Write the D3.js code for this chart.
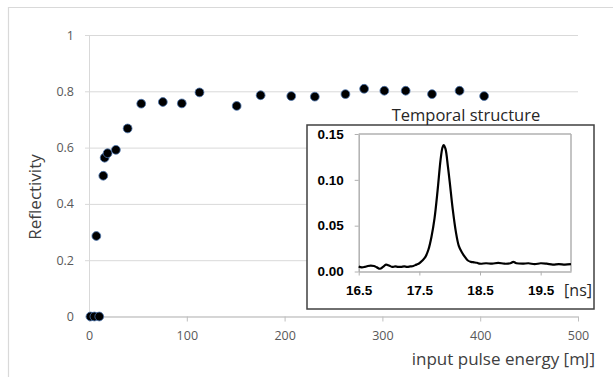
<!DOCTYPE html>
<html>
<head>
<meta charset="utf-8">
<script src="https://cdn.jsdelivr.net/npm/d3@7"></script>
<style>
  html, body { margin: 0; padding: 0; background: #fff; }
  svg { display: block; }
</style>
</head>
<body>
<svg id="chart" width="613" height="377"></svg>
<script>
// ---- Main chart data ----
const energy = [1.5, 5.5, 10.5, 7.5, 14.6, 16, 19, 27.5, 39.5, 53.4, 75.5, 94.9, 113, 151, 175.5, 206.8, 230.9, 262.2, 281.3, 302, 323.8, 350.7, 378.9, 404];
const reflectivity = [0, 0, 0, 0.286, 0.50, 0.564, 0.58, 0.592, 0.668, 0.756, 0.762, 0.757, 0.796, 0.748, 0.786, 0.783, 0.781, 0.790, 0.809, 0.802, 0.802, 0.790, 0.802, 0.783];
const xTicks = [0, 100, 200, 300, 400, 500];
const yTicks = [0, 0.2, 0.4, 0.6, 0.8, 1];

// ---- Inset data (temporal structure) ----
const time = [16.5,16.55,16.6,16.65,16.7,16.75,16.8,16.85,16.9,16.95,17.0,17.05,17.1,17.15,17.2,17.25,17.3,17.35,17.4,17.45,17.5,17.55,17.6,17.65,17.7,17.75,17.8,17.85,17.88,17.9,17.93,17.97,18.0,18.05,18.1,18.15,18.2,18.25,18.3,18.35,18.4,18.45,18.5,18.6,18.7,18.8,18.9,19.0,19.05,19.1,19.2,19.3,19.4,19.5,19.6,19.7,19.8,19.9,20.0];
const signal = [0.0055,0.0045,0.005,0.006,0.0065,0.006,0.0045,0.003,0.005,0.0075,0.0065,0.005,0.0055,0.005,0.005,0.0055,0.005,0.0055,0.006,0.0075,0.009,0.012,0.016,0.024,0.038,0.058,0.088,0.122,0.135,0.138,0.134,0.115,0.098,0.068,0.044,0.028,0.021,0.016,0.012,0.0105,0.010,0.0095,0.0085,0.009,0.0085,0.0095,0.0085,0.009,0.0105,0.009,0.0085,0.009,0.008,0.009,0.0085,0.0075,0.008,0.0075,0.008];
const insetXTicks = [16.5, 17.5, 18.5, 19.5];
const insetYTicks = [0, 0.05, 0.10, 0.15];

const svg = d3.select("#chart");
const FONT = "'Open Sans', 'Liberation Sans', sans-serif";
const BOLD = "'Liberation Sans', Arial, sans-serif";
const txt = "#595959";
const grid = "#d9d9d9";
const axisCol = "#bfbfbf";

// outer frame
svg.append("line").attr("x1", 8).attr("y1", 7.5).attr("x2", 613).attr("y2", 7.5).attr("stroke", grid).attr("stroke-width", 1.2);
svg.append("line").attr("x1", 8.5).attr("y1", 7).attr("x2", 8.5).attr("y2", 377).attr("stroke", grid).attr("stroke-width", 1.2);

const x = d3.scaleLinear().domain([0, 500]).range([89, 578]);
const y = d3.scaleLinear().domain([0, 1]).range([316.5, 35]);

// gridlines (y)
const gY = svg.append("g").attr("transform", "translate(89,0)")
  .call(d3.axisLeft(y).tickValues(yTicks).tickSize(-(578 - 89)).tickSizeOuter(0).tickFormat(d3.format("")));
gY.select(".domain").remove();
gY.selectAll(".tick line").attr("stroke", grid).attr("x1", -4).attr("stroke-width", 1);
gY.selectAll(".tick text").attr("x", -15).attr("fill", txt).attr("font-family", FONT).attr("font-size", 12.5);

// vertical axis line
svg.append("line").attr("x1", 89.5).attr("x2", 89.5).attr("y1", y(1)).attr("y2", y(0)).attr("stroke", grid);

// x axis
const gX = svg.append("g").attr("transform", "translate(0," + y(0) + ")")
  .call(d3.axisBottom(x).tickValues(xTicks).tickSize(5).tickSizeOuter(0).tickFormat(d3.format("")));
gX.select(".domain").attr("stroke", axisCol);
gX.selectAll(".tick line").attr("stroke", axisCol);
gX.selectAll(".tick text").attr("y", 15).attr("fill", txt).attr("font-family", FONT).attr("font-size", 12.5);

// axis titles
svg.append("text").attr("transform", "translate(41,197) rotate(-90)").attr("text-anchor", "middle")
  .attr("font-family", FONT).attr("font-size", 17).attr("fill", "#404040").text("Reflectivity");
svg.append("text").attr("x", 595).attr("y", 365).attr("text-anchor", "end")
  .attr("font-family", FONT).attr("font-size", 17).attr("fill", "#404040").text("input pulse energy [mJ]");

// points
svg.append("g").selectAll("circle").data(energy.map((e, i) => [e, reflectivity[i]])).join("circle")
  .attr("cx", d => x(d[0])).attr("cy", d => y(d[1])).attr("r", 4.4)
  .attr("fill", "#000").attr("stroke", "#4a74ad").attr("stroke-width", 0.8);

// ---- inset ----
const ins = svg.append("g");
ins.append("rect").attr("x", 307).attr("y", 125).attr("width", 287).attr("height", 184)
  .attr("fill", "#fff").attr("stroke", "#404040").attr("stroke-width", 1.5);

ins.append("text").attr("x", 466).attr("y", 120.5).attr("text-anchor", "middle")
  .attr("font-family", FONT).attr("font-size", 16.5).attr("fill", "#262626").text("Temporal structure");

const ix = d3.scaleLinear().domain([16.5, 20]).range([358.7, 571]);
const iy = d3.scaleLinear().domain([0, 0.15]).range([271.5, 134]);

// inner frame (top & right)
ins.append("line").attr("x1", ix(16.5)).attr("x2", ix(20)).attr("y1", iy(0.15)).attr("y2", iy(0.15)).attr("stroke", "#b0b0b0").attr("stroke-width", 1.5);
ins.append("line").attr("x1", ix(20)).attr("x2", ix(20)).attr("y1", iy(0.15)).attr("y2", iy(0)).attr("stroke", "#b0b0b0").attr("stroke-width", 1.5);

const iyAxis = ins.append("g").attr("transform", "translate(" + ix(16.5) + ",0)")
  .call(d3.axisLeft(iy).tickValues(insetYTicks).tickSize(4).tickSizeOuter(0).tickFormat(d3.format(".2f")));
iyAxis.select(".domain").attr("stroke", "#b0b0b0").attr("stroke-width", 1.5);
iyAxis.selectAll(".tick line").attr("stroke", "#b0b0b0");
iyAxis.selectAll(".tick text").attr("x", -15).attr("font-family", BOLD)
  .attr("font-weight", "bold").attr("font-size", 13.5).attr("fill", "#000");

const ixAxis = ins.append("g").attr("transform", "translate(0," + iy(0) + ")")
  .call(d3.axisBottom(ix).tickValues(insetXTicks).tickSize(4).tickSizeOuter(0).tickFormat(d3.format(".1f")));
ixAxis.select(".domain").attr("stroke", "#b0b0b0").attr("stroke-width", 1.5);
ixAxis.selectAll(".tick line").attr("stroke", "#b0b0b0");
ixAxis.selectAll(".tick text").attr("y", 14).attr("font-family", BOLD)
  .attr("font-weight", "bold").attr("font-size", 13.5).attr("fill", "#000");

ins.append("text").attr("x", 592).attr("y", 296).attr("text-anchor", "end")
  .attr("font-family", FONT).attr("font-size", 16).attr("fill", "#262626").text("[ns]");

const line = d3.line().x((d, i) => ix(time[i])).y(d => iy(d)).curve(d3.curveCatmullRom);
ins.append("path").attr("d", line(signal)).attr("fill", "none").attr("stroke", "#000").attr("stroke-width", 2.2);
</script>
</body>
</html>
